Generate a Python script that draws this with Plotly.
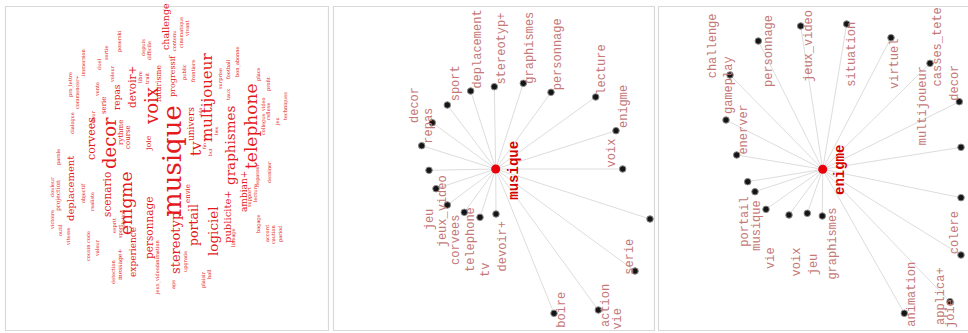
import plotly.graph_objects as go

W, H = 968, 333

# ---------------- Panel 1 : word cloud ----------------
wc_words = ["musique", "voix", "decor", "enigme", "corvees", "scenario", "personnage",
            "devoir+", "repas", "serie", "rythme", "course", "joie", "tv", "univers",
            "envie", "portail", "stereotyp", "logiciel", "multijoueur", "graphismes",
            "telephone", "publicite+", "ambian+", "progressif", "futurisme", "challenge",
            "deplacement", "experience",
            "immersion", "pro_lettre", "commencer+", "dialogue", "fleur", "vente", "duel",
            "sortie", "voleur", "poser", "ski", "libre", "trait", "depuis", "difficile",
            "contenu", "cinematique", "vivant", "public", "frontiere", "surprise", "football",
            "taux", "bon_abonne", "place", "profit", "video", "reflexe", "techniques",
            "collegue", "jeu", "depasser", "dessiner", "lecture", "support", "bagage",
            "accord", "caution", "pariod", "lineage", "plaisir", "hall", "upgrade", "age",
            "jeux_video/animation", "detection", "message+", "sport", "solution", "cousin",
            "code", "valeur", "vitesse", "outil", "victoire", "projection", "douleur",
            "parole", "objectif", "realiste", "esprit", "ado", "fin", "but", "lieu"]
wc_x = [172, 151, 109, 126, 91, 107, 149, 132, 117, 104, 121, 128, 148, 196, 191,
        188, 193, 175, 213, 207, 230, 251, 227, 244, 172, 158, 165, 70, 133,
        83, 70, 77, 72, 93, 97, 99, 106, 112, 119, 119, 140, 147, 143, 149,
        174, 181, 187, 184, 193, 220, 228, 228, 237, 258, 268, 263, 268, 285,
        263, 277, 257, 269, 255, 249, 258, 267, 273, 280, 233, 203, 209, 185, 173,
        157, 113, 120, 120, 123, 88, 88, 97, 68, 60, 52, 58, 52,
        58, 83, 92, 114, 200, 204, 210, 216]
wc_y = [161, 106, 143, 203, 139, 195, 228, 87, 97, 106, 133, 137, 143, 149, 124,
        194, 225, 243, 231, 98, 145, 127, 217, 192, 76, 84, 27, 189, 252,
        62, 85, 92, 123, 117, 90, 65, 53, 74, 45, 34, 77, 79, 48, 51,
        41, 33, 29, 72, 71, 79, 69, 95, 62, 74, 84, 105, 112, 106,
        125, 121, 176, 172, 193, 197, 224, 233, 234, 234, 238, 280, 274, 262, 285,
        268, 272, 265, 232, 220, 253, 237, 248, 237, 230, 220, 196, 187,
        157, 193, 202, 226, 112, 146, 152, 131]
wc_size = [26, 18, 18, 17, 11, 10.5, 10.5, 10.5, 9, 7, 7, 7, 8, 15, 9,
           7, 12.5, 13, 13.5, 15, 13.5, 17, 10, 9, 8, 7.5, 9.5, 10, 9,
           5, 5, 5, 5, 5, 5, 5, 5, 5, 5, 5, 5, 5, 5, 5,
           5, 5, 5, 5, 5, 5, 5, 5, 5, 5, 5, 5, 5, 5,
           5, 5, 5, 5, 5, 5, 5, 5, 5, 5, 5, 5, 5, 5, 5,
           5, 5, 6, 5, 5, 5, 5, 5, 5, 5, 5, 6, 5,
           5, 5, 5, 5, 4.5, 4.5, 4.5, 4.5]

# ---------------- Panel 2 : network around "musique" ----------------
g2_center = ("musique", 495.7, 169.0)
g2_node_x = [432.3, 421.7, 447.3, 470.7, 494.3, 523.3, 551.0, 595.7, 616.0, 622.7,
             650.0, 635.0, 598.3, 554.0, 496.0, 480.0, 464.3, 447.3, 436.0, 429.0]
g2_node_y = [122.7, 145.7, 105.0, 91.0, 86.7, 83.3, 92.3, 97.0, 130.7, 169.0,
             219.0, 271.0, 310.0, 313.3, 214.0, 217.3, 212.3, 205.0, 188.7, 170.3]
g2_labels = ["decor", "repas", "sport", "deplacement", "stereotyp+", "graphismes",
             "personnage", "lecture", "enigme", "voix", "jeu", "jeux_video", "corvees",
             "telephone", "tv", "devoir+", "serie", "boire", "action", "vie"]
g2_label_x = [415.0, 428.7, 456.0, 478.3, 502.3, 530.0, 558.3, 601.7, 623.3, 611.7,
              430.0, 443.3, 456.0, 471.7, 486.0, 502.7, 630.0, 561.7, 606.0, 618.3]
g2_label_y = [105.0, 126.0, 83.3, 49.3, 48.3, 47.7, 54.0, 70.0, 106.7, 152.7,
              219.3, 211.0, 240.0, 239.3, 270.0, 246.7, 256.7, 310.0, 306.0, 318.3]

# ---------------- Panel 3 : network around "enigme" ----------------
g3_center = ("enigme", 822.7, 169.3)
g3_node_x = [730.0, 726.0, 736.7, 747.7, 755.0, 766.0, 789.0, 807.3, 822.3, 758.3,
             800.7, 846.7, 891.0, 930.0, 959.3, 961.0, 961.0, 961.0, 950.0, 904.3]
g3_node_y = [75.0, 120.0, 155.0, 181.7, 191.7, 209.3, 215.0, 213.3, 216.0, 41.0,
             26.0, 24.0, 37.7, 63.3, 101.7, 147.3, 197.7, 255.0, 301.7, 313.3]
g3_labels = ["challenge", "gameplay", "enerver", "personnage", "jeux_video", "situation",
             "virtuel", "multijoueur", "casses_tete", "decor", "portail", "musique",
             "vie", "voix", "jeu", "graphismes", "colere", "animation", "applica+", "joie"]
g3_label_x = [713.3, 729.0, 744.3, 768.3, 809.0, 851.7, 895.0, 923.3, 937.7, 955.0,
              745.0, 756.7, 771.7, 796.7, 814.3, 833.3, 955.0, 911.7, 941.0, 951.7]
g3_label_y = [46.0, 85.0, 129.3, 50.7, 46.0, 54.0, 64.0, 106.0, 46.7, 82.7,
              221.7, 226.0, 258.3, 261.7, 264.0, 243.3, 233.3, 294.0, 296.0, 313.3]

# panel extents (pixel units used as the axis units)
panels = [(0, 330), (330, 656), (656, 968)]
borders = [(5, 328), (333, 654), (658, 990)]

WC_COLOR = "#e41a1c"
LABEL_COLOR = "#c47878"
EDGE_COLOR = "#dddddd"
CENTER_COLOR = "#e8000b"

fig = go.Figure()

# edges + nodes for the two networks
for i, (center, nx, ny) in enumerate([(g2_center, g2_node_x, g2_node_y),
                                      (g3_center, g3_node_x, g3_node_y)]):
    ax = "x%d" % (i + 2)
    ay = "y%d" % (i + 2)
    ex, ey = [], []
    for x, y in zip(nx, ny):
        ex += [center[1], x, None]
        ey += [center[2], y, None]
    fig.add_trace(go.Scatter(x=ex, y=ey, mode="lines", xaxis=ax, yaxis=ay,
                             line=dict(color=EDGE_COLOR, width=1),
                             hoverinfo="skip", showlegend=False))
    fig.add_trace(go.Scatter(x=nx, y=ny, mode="markers", xaxis=ax, yaxis=ay,
                             marker=dict(size=6.5, color="#151515",
                                         line=dict(color="#8a8a8a", width=1)),
                             showlegend=False))
    fig.add_trace(go.Scatter(x=[center[1]], y=[center[2]], mode="markers",
                             xaxis=ax, yaxis=ay,
                             marker=dict(size=9, color=CENTER_COLOR),
                             showlegend=False))

# invisible trace for panel 1 so its axes exist
fig.add_trace(go.Scatter(x=wc_x, y=wc_y, mode="markers", xaxis="x", yaxis="y",
                         marker=dict(size=1, opacity=0), hoverinfo="skip",
                         showlegend=False))

annotations = []
for w, x, y, s in zip(wc_words, wc_x, wc_y, wc_size):
    annotations.append(dict(text=w, x=x, y=y, xref="x", yref="y", showarrow=False,
                            textangle=-90, xanchor="center", yanchor="middle",
                            font=dict(family="DejaVu Serif", size=s, color=WC_COLOR)))

for i, (center, labs, lx, ly) in enumerate([(g2_center, g2_labels, g2_label_x, g2_label_y),
                                            (g3_center, g3_labels, g3_label_x, g3_label_y)]):
    xr, yr = "x%d" % (i + 2), "y%d" % (i + 2)
    for t, x, y in zip(labs, lx, ly):
        annotations.append(dict(text=t, x=x, y=y, xref=xr, yref=yr, showarrow=False,
                                textangle=-90, xanchor="center", yanchor="middle",
                                font=dict(family="Liberation Mono", size=12,
                                          color=LABEL_COLOR)))
    annotations.append(dict(text="<b>%s</b>" % center[0],
                            x=center[1] + 18, y=center[2] + 1, xref=xr, yref=yr,
                            showarrow=False, textangle=-90, xanchor="center",
                            yanchor="middle",
                            font=dict(family="Liberation Mono", size=14,
                                      color="#d40000")))

shapes = []
for i, ((b0, b1), (p0, p1)) in enumerate(zip(borders, panels)):
    xr = "x" if i == 0 else "x%d" % (i + 1)
    yr = "y" if i == 0 else "y%d" % (i + 1)
    shapes.append(dict(type="rect", xref=xr, yref=yr, x0=b0 + 0.5, x1=b1 + 0.5,
                       y0=6.5, y1=330.5, line=dict(color="#d9d9d9", width=1.2),
                       fillcolor="rgba(0,0,0,0)", layer="below"))

layout = dict(width=W, height=H, margin=dict(l=0, r=0, t=0, b=0),
              paper_bgcolor="white", plot_bgcolor="white",
              annotations=annotations, shapes=shapes, showlegend=False)
for i, (p0, p1) in enumerate(panels):
    xn = "xaxis" if i == 0 else "xaxis%d" % (i + 1)
    yn = "yaxis" if i == 0 else "yaxis%d" % (i + 1)
    layout[xn] = dict(domain=[p0 / W, p1 / W], range=[p0, p1], visible=False,
                      fixedrange=True)
    layout[yn] = dict(domain=[0, 1], range=[H, 0], visible=False, fixedrange=True,
                      anchor="x" if i == 0 else "x%d" % (i + 1))
    if i > 0:
        layout[xn]["anchor"] = "y%d" % (i + 1)

fig.update_layout(**layout)
fig.write_html("out.html", config={"displayModeBar": False},
               post_script="document.body.style.margin='0';document.body.style.overflow='hidden';")
